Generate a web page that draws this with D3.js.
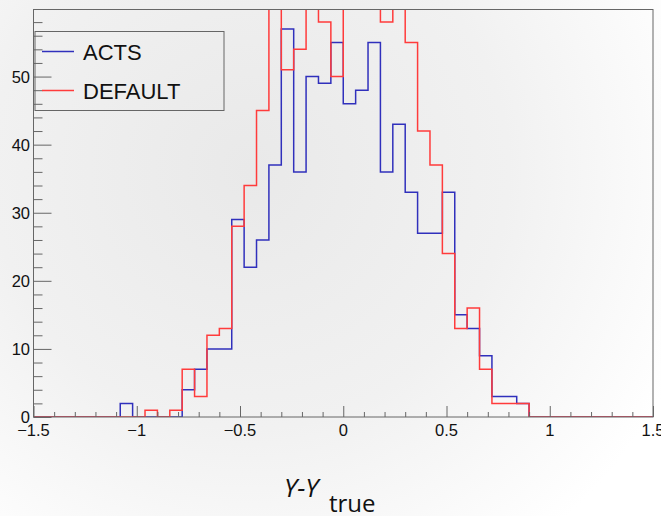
<!DOCTYPE html>
<html>
<head>
<meta charset="utf-8">
<script src="https://cdn.jsdelivr.net/npm/d3@7"></script>
<style>
  html, body { margin: 0; padding: 0; background: #fff; }
  svg { display: block; }
</style>
</head>
<body>
<div id="chart"></div>
<script>
// histogram range and binning
const xMin = -1.5;
const xMax = 1.5;
const binWidth = 0.06;

// bin contents, 50 bins from -1.5 to 1.5
const actsCounts = [
  0, 0, 0, 0, 0, 0, 0, 2, 0, 0,
  0, 0, 4, 7, 10, 10, 29, 22, 26, 37,
  57, 36, 50, 49, 55, 46, 48, 55, 36, 43,
  33, 27, 27, 33, 15, 13, 9, 3, 3, 2,
  0, 0, 0, 0, 0, 0, 0, 0, 0, 0
];
const defaultCounts = [
  0, 0, 0, 0, 0, 0, 0, 0, 0, 1,
  0, 1, 7, 3, 12, 13, 28, 34, 45, 63,
  51, 54, 64, 58, 50, 66, 68, 65, 58, 62,
  55, 42, 37, 24, 13, 16, 7, 2, 2, 2,
  0, 0, 0, 0, 0, 0, 0, 0, 0, 0
];

const seriesNames = ["ACTS", "DEFAULT"];
const seriesColors = ["#3030bc", "#ff3b3b"];

const xTicks = [-1.5, -1, -0.5, 0, 0.5, 1, 1.5];
const yTicks = [0, 10, 20, 30, 40, 50];
const yMax = 59.85;

const width = 661, height = 516;

const svg = d3.select("#chart").append("svg")
  .attr("width", width)
  .attr("height", height)
  .attr("viewBox", `0 0 ${width} ${height}`);

// faint background like the watermark picture
const defs = svg.append("defs");
const grad = defs.append("radialGradient")
  .attr("id", "bg")
  .attr("gradientUnits", "userSpaceOnUse")
  .attr("cx", 250).attr("cy", 170).attr("r", 470);
grad.append("stop").attr("offset", 0).attr("stop-color", "#e9e9e9");
grad.append("stop").attr("offset", 0.55).attr("stop-color", "#f1f1f1");
grad.append("stop").attr("offset", 1).attr("stop-color", "#ffffff");
svg.append("rect").attr("width", width).attr("height", height).attr("fill", "url(#bg)");

const x = d3.scaleLinear().domain([xMin, xMax]).range([33.5, 653]);
const y = d3.scaleLinear().domain([0, yMax]).range([417, 9.5]);

defs.append("clipPath").attr("id", "frameClip")
  .append("rect")
  .attr("x", x(xMin)).attr("y", y(yMax))
  .attr("width", x(xMax) - x(xMin)).attr("height", y(0) - y(yMax));

// step path for a histogram
function stepPath(counts) {
  const pts = [];
  counts.forEach((c, i) => {
    const lo = xMin + i * binWidth;
    pts.push([x(lo), y(c)]);
    pts.push([x(lo + binWidth), y(c)]);
  });
  return d3.line()(pts);
}

const plot = svg.append("g").attr("clip-path", "url(#frameClip)");
[actsCounts, defaultCounts].forEach((counts, i) => {
  plot.append("path")
    .attr("d", stepPath(counts))
    .attr("fill", "none")
    .attr("stroke", seriesColors[i])
    .attr("stroke-width", 1.5);
});

const axisColor = "#666";

// frame
svg.append("rect")
  .attr("x", x(xMin)).attr("y", y(yMax))
  .attr("width", x(xMax) - x(xMin)).attr("height", y(0) - y(yMax))
  .attr("fill", "none")
  .attr("stroke", axisColor)
  .attr("stroke-width", 1);

// x axis, ticks pointing into the frame
const xAxis = d3.axisTop(x)
  .tickValues(d3.range(-15, 16).map(d => d / 10))
  .tickSize(5)
  .tickFormat("");
const gx = svg.append("g").attr("transform", `translate(0,${y(0)})`).call(xAxis);
gx.selectAll(".tick line")
  .attr("y2", d => xTicks.some(t => Math.abs(t - d) < 1e-9) ? -11 : -5);
gx.selectAll("line, path").attr("stroke", axisColor);
gx.select(".domain").remove();

svg.append("g").selectAll("text")
  .data(xTicks)
  .join("text")
  .attr("x", d => x(d))
  .attr("y", 435.5)
  .attr("text-anchor", "middle")
  .attr("font-family", "Liberation Sans, Arial, sans-serif")
  .attr("font-size", 16.5)
  .attr("fill", "#111")
  .text(d => (d < 0 ? "\u2212" : "") + Math.abs(d));

// y axis, ticks pointing into the frame
const yAxis = d3.axisRight(y)
  .tickValues(d3.range(0, 59, 2))
  .tickFormat("");
const gy = svg.append("g").attr("transform", `translate(${x(xMin)},0)`).call(yAxis);
gy.selectAll(".tick line")
  .attr("x2", d => yTicks.includes(d) ? 18 : 9);
gy.selectAll("line, path").attr("stroke", axisColor);
gy.select(".domain").remove();

svg.append("g").selectAll("text")
  .data(yTicks)
  .join("text")
  .attr("x", 30)
  .attr("y", d => y(d))
  .attr("dy", "0.36em")
  .attr("text-anchor", "end")
  .attr("font-family", "Liberation Sans, Arial, sans-serif")
  .attr("font-size", 16.5)
  .attr("fill", "#111")
  .text(d => d);

// legend
const legend = svg.append("g");
legend.append("rect")
  .attr("x", 35).attr("y", 31.5)
  .attr("width", 189).attr("height", 79)
  .attr("fill", "none")
  .attr("stroke", axisColor)
  .attr("stroke-width", 1);
seriesNames.forEach((name, i) => {
  const cy = 51.5 + i * 39;
  legend.append("line")
    .attr("x1", 42).attr("x2", 74)
    .attr("y1", cy).attr("y2", cy)
    .attr("stroke", seriesColors[i])
    .attr("stroke-width", 1.5);
  legend.append("text")
    .attr("x", 83)
    .attr("y", cy + 8.5)
    .attr("font-family", "Liberation Sans, Arial, sans-serif")
    .attr("font-size", 22)
    .attr("fill", "#111")
    .text(name);
});

// axis title
const title = svg.append("text")
  .attr("x", 284)
  .attr("y", 497)
  .attr("font-family", "Open Sans, sans-serif")
  .attr("font-size", 26)
  .attr("fill", "#111");
title.append("tspan").attr("font-style", "italic").text("Y-Y");
title.append("tspan").attr("x", 329).attr("y", 511.5).attr("font-size", 24).text("true");
</script>
</body>
</html>
